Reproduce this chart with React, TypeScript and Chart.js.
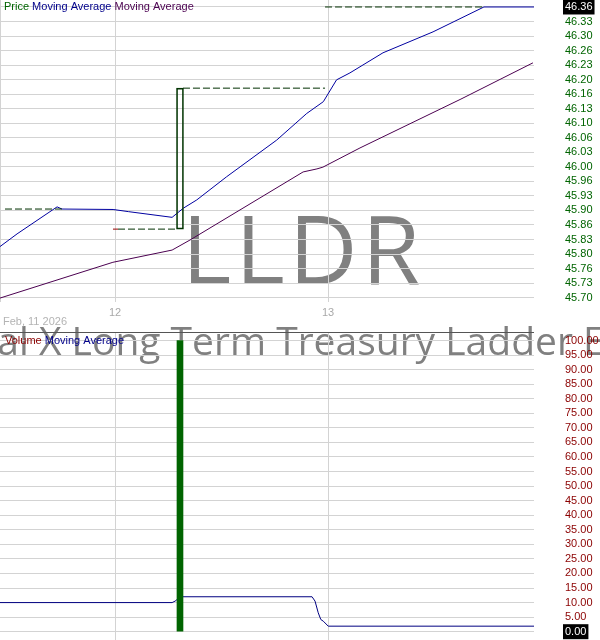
import React, { useEffect, useRef } from "react";
import { Chart, registerables } from "chart.js";

Chart.register(...registerables);

// ---- axes / labels ----
const X_MIN = 11.46;
const X_MAX = 13.967;
const dayTicks = [11.46, 12, 13];
const dayTickLabels = ["", "12", "13"];
const dateLabel = "Feb, 11 2026";
const ticker = "LLDR";
const fundName = "Global X Long Term Treasury Ladder ETF";

const priceLegend = ["Price", "Moving Average", "Moving Average"];
const volumeLegend = ["Volume", "Moving Average"];

const priceTickLabels = [
  "45.70", "45.73", "45.76", "45.80", "45.83", "45.86", "45.90", "45.93", "45.96", "46.00",
  "46.03", "46.06", "46.10", "46.13", "46.16", "46.20", "46.23", "46.26", "46.30", "46.33", "46.36",
];
const PRICE_TICK_START = 45.697;
const PRICE_TICK_STEP = 0.0333;
const PRICE_MIN = 45.687;
const PRICE_MAX = 46.379;
const PRICE_HIGHLIGHT = 20;

const volumeTickLabels = [
  "0.00", "5.00", "10.00", "15.00", "20.00", "25.00", "30.00", "35.00", "40.00", "45.00", "50.00",
  "55.00", "60.00", "65.00", "70.00", "75.00", "80.00", "85.00", "90.00", "95.00", "100.00",
];
const VOLUME_TICK_STEP = 5;
const VOLUME_MIN = -2.85;
const VOLUME_MAX = 102.92;
const VOLUME_HIGHLIGHT = 0;

// ---- price panel data ----
const ma1Days = [11.46, 11.54, 11.728, 11.751, 11.991, 12.064, 12.268, 12.321, 12.384, 12.524, 12.759, 12.9, 12.978, 13.04, 13.103, 13.258, 13.493, 13.732, 13.967];
const ma1Values = [45.814, 45.843, 45.905, 45.9, 45.899, 45.894, 45.881, 45.902, 45.921, 45.974, 46.058, 46.119, 46.146, 46.196, 46.212, 46.258, 46.306, 46.363, 46.363];

const ma2Days = [11.46, 11.99, 12.268, 12.352, 12.883, 12.948, 12.976, 13.15, 13.624, 13.962];
const ma2Values = [45.696, 45.778, 45.806, 45.829, 45.985, 45.992, 45.996, 46.04, 46.152, 46.235];

const stepStarts = [11.4835, 12.014, 12.319, 12.986];
const stepEnds = [11.751, 12.291, 12.986, 13.732];
const stepValues = [45.9, 45.854, 46.177, 46.363];
const downStart = 11.9905;
const downEnd = 12.014;
const downValue = 45.854;

const candleDays = [12.305];
const candleOpens = [45.854];
const candleCloses = [46.177];

// ---- volume panel data ----
const volumeDays = [12.305];
const volumeValues = [100];
const volMaDays = [11.46, 12.268, 12.282, 12.297, 12.313, 12.925, 12.939, 12.954, 12.966, 12.978, 13.001, 13.967];
const volMaValues = [10, 10, 10.5, 11.4, 12, 12, 10.5, 6.5, 4.2, 3.6, 1.9, 1.9];

const FONT = "'Liberation Sans', Arial, sans-serif";
const WM_FONT = "'Open Sans', 'DejaVu Sans', sans-serif";
const GRID = "#d3d3d3";
const TOP_H = 332;
const BOT_H = 308;

function drawLegend(ctx: CanvasRenderingContext2D, labels: string[], colors: string[], x: number, y: number) {
  ctx.save();
  ctx.font = `11px ${FONT}`;
  ctx.textBaseline = "middle";
  ctx.textAlign = "left";
  let cx = x;
  labels.forEach((t, i) => {
    ctx.fillStyle = colors[i];
    ctx.fillText(t, cx, y);
    cx += ctx.measureText(t + " ").width;
  });
  ctx.restore();
}

function drawHighlight(chart: any, value: number, label: string) {
  const ctx = chart.ctx as CanvasRenderingContext2D;
  const yp = chart.scales.y.getPixelForValue(value);
  ctx.save();
  ctx.font = `11px ${FONT}`;
  const w = ctx.measureText(label).width;
  ctx.fillStyle = "#000";
  ctx.fillRect(chart.chartArea.right + 29, yp - 7.5, w + 4, 15);
  ctx.restore();
}

function drawFundName(ctx: CanvasRenderingContext2D, baseline: number) {
  ctx.save();
  ctx.fillStyle = "#808080";
  ctx.textAlign = "center";
  ctx.textBaseline = "alphabetic";
  ctx.font = `39px ${WM_FONT}`;
  ctx.fillText(fundName, 279, baseline);
  ctx.restore();
}

const noPadY = (w: number) => (s: any) => {
  s.width = w;
  s.paddingTop = 0;
  s.paddingBottom = 0;
  s.paddingLeft = 0;
  s.paddingRight = 0;
};
const noPadX = (h: number) => (s: any) => {
  s.height = h;
  s.paddingTop = 0;
  s.paddingBottom = 0;
  s.paddingLeft = 0;
  s.paddingRight = 0;
};

export default function App() {
  const topRef = useRef<HTMLCanvasElement>(null);
  const botRef = useRef<HTMLCanvasElement>(null);

  useEffect(() => {
    if (!topRef.current || !botRef.current) return;

    const stepData: any[] = [];
    stepStarts.forEach((s, i) => {
      stepData.push({ x: s, y: stepValues[i] });
      stepData.push({ x: stepEnds[i], y: stepValues[i] });
      stepData.push({ x: stepEnds[i], y: null });
    });

    const priceTickValues = priceTickLabels.map((_, i) => PRICE_TICK_START + i * PRICE_TICK_STEP);
    const volumeTickValues = volumeTickLabels.map((_, i) => i * VOLUME_TICK_STEP);

    const topPlugin = {
      id: "topDecor",
      beforeDraw(chart: any) {
        const ctx = chart.ctx as CanvasRenderingContext2D;
        ctx.save();
        ctx.fillStyle = "#808080";
        ctx.textAlign = "center";
        ctx.textBaseline = "alphabetic";
        ctx.font = `95px ${WM_FONT}`;
        (ctx as any).letterSpacing = "4px";
        ctx.fillText(ticker, 303, 284);
        ctx.restore();
        drawFundName(ctx, 355);
        drawHighlight(chart, priceTickValues[PRICE_HIGHLIGHT], priceTickLabels[PRICE_HIGHLIGHT]);
      },
      afterDraw(chart: any) {
        const ctx = chart.ctx as CanvasRenderingContext2D;
        drawLegend(ctx, priceLegend, ["#006400", "#00008b", "#4b0050"], 4, 7);
        ctx.save();
        ctx.font = `11px ${FONT}`;
        ctx.fillStyle = "#b4b4b4";
        ctx.textBaseline = "middle";
        ctx.textAlign = "left";
        ctx.fillText(dateLabel, 3, 322);
        ctx.restore();
      },
    };

    const botPlugin = {
      id: "botDecor",
      beforeDraw(chart: any) {
        const ctx = chart.ctx as CanvasRenderingContext2D;
        drawFundName(ctx, 355 - TOP_H);
        drawHighlight(chart, volumeTickValues[VOLUME_HIGHLIGHT], volumeTickLabels[VOLUME_HIGHLIGHT]);
      },
      afterDraw(chart: any) {
        const ctx = chart.ctx as CanvasRenderingContext2D;
        ctx.save();
        ctx.strokeStyle = "#555555";
        ctx.lineWidth = 1;
        ctx.beginPath();
        ctx.moveTo(0, 0.5);
        ctx.lineTo(chart.chartArea.right, 0.5);
        ctx.stroke();
        ctx.restore();
        drawLegend(ctx, volumeLegend, ["#8b0000", "#00008b"], 5, 9);
      },
    };

    const xGrid = { color: GRID, drawTicks: false, lineWidth: 1, offset: false };
    const yGrid = { color: GRID, drawTicks: false, lineWidth: 1, offset: false };

    const top = new Chart(topRef.current, {
      type: "line",
      data: {
        datasets: [
          {
            type: "bar",
            data: candleDays.map((d, i) => ({ x: d, y: [candleOpens[i], candleCloses[i]] })) as any,
            backgroundColor: "rgba(0,0,0,0)",
            borderColor: "#003300",
            borderWidth: 1,
            borderSkipped: false,
            barThickness: 7,
          } as any,
          {
            data: stepData,
            borderColor: "#003000",
            borderWidth: 1,
            borderDash: [7, 3],
            pointRadius: 0,
            spanGaps: false,
          },
          {
            data: [{ x: downStart, y: downValue }, { x: downEnd, y: downValue }],
            borderColor: "#990000",
            borderWidth: 1,
            pointRadius: 0,
          },
          {
            data: ma1Days.map((d, i) => ({ x: d, y: ma1Values[i] })),
            borderColor: "#0000a0",
            borderWidth: 1,
            pointRadius: 0,
            tension: 0,
          },
          {
            data: ma2Days.map((d, i) => ({ x: d, y: ma2Values[i] })),
            borderColor: "#4b0050",
            borderWidth: 1,
            pointRadius: 0,
            tension: 0,
          },
        ],
      },
      options: {
        animation: false,
        responsive: false,
        maintainAspectRatio: false,
        layout: { padding: 0, autoPadding: false },
        plugins: { legend: { display: false }, tooltip: { enabled: false } },
        scales: {
          x: {
            type: "linear",
            min: X_MIN,
            max: X_MAX,
            offset: false,
            afterBuildTicks: (s: any) => {
              s.ticks = dayTicks.map((v) => ({ value: v }));
            },
            afterFit: noPadX(TOP_H - 302),
            ticks: {
              autoSkip: false,
              maxRotation: 0,
              padding: 4,
              color: "#a9a9a9",
              font: { family: FONT, size: 11 },
              callback: (_v: any, i: number) => dayTickLabels[i],
            },
            grid: xGrid,
            border: { display: false },
          },
          y: {
            position: "right",
            min: PRICE_MIN,
            max: PRICE_MAX,
            afterBuildTicks: (s: any) => {
              s.ticks = priceTickValues.map((v) => ({ value: v }));
            },
            afterFit: noPadY(66),
            ticks: {
              autoSkip: false,
              padding: 31,
              crossAlign: "near",
              font: { family: FONT, size: 11 },
              color: (c: any) => (c.index === PRICE_HIGHLIGHT ? "#ffffff" : "#006400"),
              callback: (_v: any, i: number) => priceTickLabels[i],
            },
            grid: yGrid,
            border: { display: false },
          },
        },
      } as any,
      plugins: [topPlugin],
    });

    const bot = new Chart(botRef.current, {
      type: "line",
      data: {
        datasets: [
          {
            type: "bar",
            data: volumeDays.map((d, i) => ({ x: d, y: volumeValues[i] })) as any,
            backgroundColor: "#006400",
            borderWidth: 0,
            barThickness: 6,
          } as any,
          {
            data: volMaDays.map((d, i) => ({ x: d, y: volMaValues[i] })),
            borderColor: "#000080",
            borderWidth: 1,
            pointRadius: 0,
            tension: 0,
          },
        ],
      },
      options: {
        animation: false,
        responsive: false,
        maintainAspectRatio: false,
        layout: { padding: 0, autoPadding: false },
        plugins: { legend: { display: false }, tooltip: { enabled: false } },
        scales: {
          x: {
            type: "linear",
            min: X_MIN,
            max: X_MAX,
            offset: false,
            afterBuildTicks: (s: any) => {
              s.ticks = dayTicks.slice(1).map((v) => ({ value: v }));
            },
            afterFit: noPadX(0),
            ticks: { display: false },
            grid: xGrid,
            border: { display: false },
          },
          y: {
            position: "right",
            min: VOLUME_MIN,
            max: VOLUME_MAX,
            afterBuildTicks: (s: any) => {
              s.ticks = volumeTickValues.map((v) => ({ value: v }));
            },
            afterFit: noPadY(66),
            ticks: {
              autoSkip: false,
              padding: 31,
              crossAlign: "near",
              font: { family: FONT, size: 11 },
              color: (c: any) => (c.index === VOLUME_HIGHLIGHT ? "#ffffff" : "#8b0000"),
              callback: (_v: any, i: number) => volumeTickLabels[i],
            },
            grid: yGrid,
            border: { display: false },
          },
        },
      } as any,
      plugins: [botPlugin],
    });

    return () => {
      top.destroy();
      bot.destroy();
    };
  }, []);

  return (
    <div style={{ position: "absolute", left: 0, top: 0, width: 600, height: 640, background: "#fff", overflow: "hidden" }}>
      <canvas ref={topRef} width={600} height={TOP_H} style={{ position: "absolute", left: 0, top: 0, display: "block" }} />
      <canvas ref={botRef} width={600} height={BOT_H} style={{ position: "absolute", left: 0, top: TOP_H, display: "block" }} />
    </div>
  );
}
